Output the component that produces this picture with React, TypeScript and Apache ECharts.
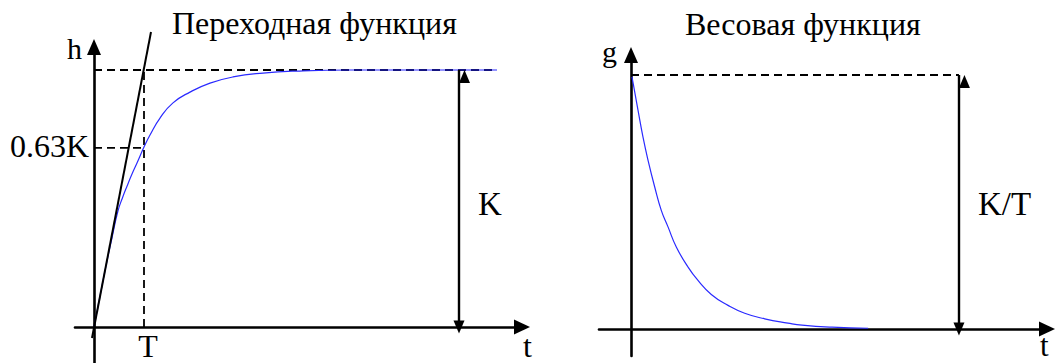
import React, { useEffect, useRef } from "react";
import * as echarts from "echarts";

// Step response (Переходная функция): t in units of T, h in units of K
const stepT = [0, 0.12, 0.24, 0.36, 0.48, 0.57, 0.66, 0.76, 0.86, 1.0, 1.12, 1.32, 1.58, 1.92, 2.32, 2.78, 3.38, 4.06, 5.12, 8.06];
const stepH = [0, 0.12, 0.238, 0.347, 0.452, 0.503, 0.548, 0.595, 0.638, 0.7, 0.747, 0.813, 0.872, 0.914, 0.949, 0.973, 0.988, 0.996, 1.0, 1.0];
// Tangent at origin
const tangentT = [-0.04, 1.14];
const tangentH = [-0.043, 1.148];
const stepLevel = 0.697; // drawn "0.63K" level
const stepTimeConst = 1; // T
const stepSteadyEnd = 8.06;
const gainMarkT = 7.3;

// Impulse response (Весовая функция)
const impT = [0.026, 0.184, 0.316, 0.447, 0.624, 0.797, 0.974, 1.192, 1.5, 1.763, 2.113, 2.553, 2.992, 3.518, 4.132, 4.5, 5.29, 6.24];
const impG = [0.993, 0.862, 0.755, 0.665, 0.559, 0.467, 0.402, 0.323, 0.244, 0.191, 0.136, 0.093, 0.062, 0.04, 0.023, 0.015, 0.007, 0.003];
const impPeak = 1;
const impMarkT = 8.63;

const pairs = (xs: number[], ys: number[]) => xs.map((x, i) => [x, ys[i]]);

const FONT = "Liberation Serif";

export default function App() {
  const ref = useRef<HTMLDivElement>(null);
  useEffect(() => {
    if (!ref.current) return;
    const chart = echarts.init(ref.current, undefined, { renderer: "svg" });
    const axisLineStyle = { color: "#000", width: 2.6 };
    const dashed = { color: "#000", width: 1.8, type: [8, 5] as any };
    const hidden = {
      splitLine: { show: false },
      axisTick: { show: false },
      axisLabel: { show: false },
    };
    const text = (t: string, x: number, y: number, size: number, align = "left") => ({
      type: "text",
      x,
      y,
      style: {
        text: t,
        fontFamily: FONT,
        fontSize: size,
        fill: "#000",
        align,
        textAlign: align,
        verticalAlign: "middle",
        textVerticalAlign: "middle",
      },
    });
    const lineSeries = (data: number[][], idx: number, lineStyle: any, extra: any = {}) => ({
      type: "line",
      xAxisIndex: idx,
      yAxisIndex: idx,
      data,
      showSymbol: false,
      symbol: "none",
      lineStyle,
      silent: true,
      ...extra,
    });
    const arrowMark = (x: number, y0: number, y1: number) => ({
      silent: true,
      symbol: ["triangle", "triangle"],
      symbolSize: [11, 13],
      symbolOffset: [0, "50%"],
      label: { show: false },
      lineStyle: { color: "#000", width: 2.4, type: "solid" },
      data: [[{ coord: [x, y0] }, { coord: [x, y1] }]],
    });
    chart.setOption({
      animation: false,
      backgroundColor: "#fff",
      grid: [
        { left: 75, right: 535, top: 47, bottom: 0 },
        { left: 599, right: 10, top: 55, bottom: 7 },
      ],
      xAxis: [
        {
          type: "value",
          gridIndex: 0,
          min: -0.38,
          max: 8.56,
          axisLine: { onZero: true, symbol: ["none", "triangle"], symbolSize: [15, 16], lineStyle: axisLineStyle },
          ...hidden,
        },
        {
          type: "value",
          gridIndex: 1,
          min: -0.8421,
          max: 10.947,
          axisLine: { onZero: true, symbol: ["none", "triangle"], symbolSize: [15, 16], lineStyle: axisLineStyle },
          ...hidden,
        },
      ],
      yAxis: [
        {
          type: "value",
          gridIndex: 0,
          min: -0.1401,
          max: 1.0895,
          axisLine: { onZero: true, symbol: ["none", "triangle"], symbolSize: [14, 16], lineStyle: axisLineStyle },
          ...hidden,
        },
        {
          type: "value",
          gridIndex: 1,
          min: -0.1063,
          max: 1.0787,
          axisLine: { onZero: true, symbol: ["none", "triangle"], symbolSize: [14, 16], lineStyle: axisLineStyle },
          ...hidden,
        },
      ],
      series: [
        lineSeries([[0, 1], [stepSteadyEnd, 1]], 0, dashed),
        lineSeries([[0, stepLevel], [stepTimeConst, stepLevel]], 0, dashed),
        lineSeries([[stepTimeConst, 0], [stepTimeConst, 1]], 0, dashed),
        lineSeries(pairs(stepT, stepH), 0, { color: "#2a2aff", width: 1.2 }, { smooth: 0.5 }),
        lineSeries(pairs(tangentT, tangentH), 0, { color: "#000", width: 2 }, { clip: false, z: 3 }),
        lineSeries([[gainMarkT, 0], [gainMarkT, 1]], 0, { width: 0, opacity: 0 }, { markLine: arrowMark(gainMarkT, 0, 1) }),
        lineSeries([[0, impPeak], [impMarkT, impPeak]], 1, dashed),
        lineSeries(pairs(impT, impG), 1, { color: "#2a2aff", width: 1.2 }, { smooth: 0.5 }),
        lineSeries([[impMarkT, 0], [impMarkT, impPeak]], 1, { width: 0, opacity: 0 }, { markLine: arrowMark(impMarkT, 0, impPeak) }),
      ],
      graphic: [
        text("Переходная функция", 172, 23, 32),
        text("Весовая функция", 685, 24, 32),
        text("h", 67, 48, 30),
        text("0.63K", 89, 146, 32, "right"),
        text("K", 478, 204, 33),
        text("T", 148, 346, 32, "center"),
        text("t", 523, 346, 32),
        text("g", 602, 51, 30),
        text("K/T", 978, 204, 33),
        text("t", 1040, 345, 31),
      ],
    });
    return () => chart.dispose();
  }, []);
  return (
    <div
      ref={ref}
      style={{ position: "absolute", left: 0, top: 0, width: 1057, height: 363 }}
    />
  );
}
